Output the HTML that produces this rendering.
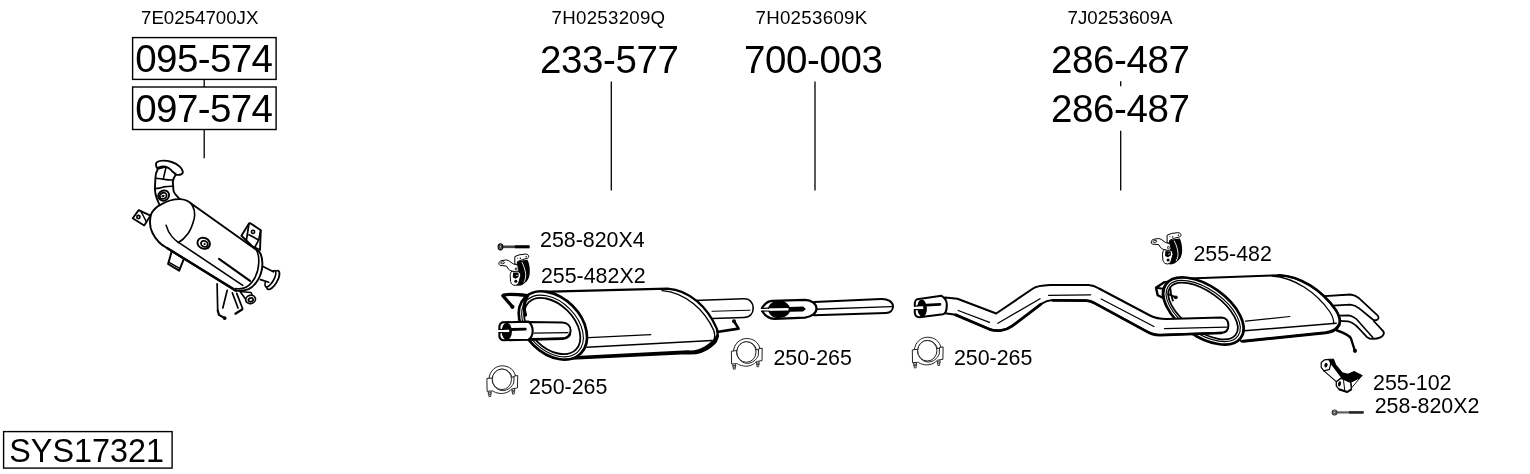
<!DOCTYPE html>
<html><head><meta charset="utf-8"><title>SYS17321</title>
<style>
html,body{margin:0;padding:0;background:#fff;}
svg{display:block}
text{font-family:"Liberation Sans",Arial,sans-serif;fill:#000}
.oe{font-size:18.7px;text-anchor:middle}
.big{font-size:38.5px;letter-spacing:-0.4px;text-anchor:middle}
.sm{font-size:21.4px}
.ln{stroke:#000;stroke-width:1.3;fill:none}
.bx{stroke:#000;stroke-width:1.4;fill:none}
.p{stroke:#000;stroke-width:1.6;fill:#fff;stroke-linejoin:round;stroke-linecap:round}
.t{stroke:#000;stroke-width:1;fill:none;stroke-linejoin:round;stroke-linecap:round}
.k{stroke:#000;stroke-width:2.2;fill:none;stroke-linejoin:round;stroke-linecap:round}
</style></head><body>
<svg width="1530" height="474" viewBox="0 0 1530 474">
<rect width="1530" height="474" fill="#fff"/>
<!-- drawings -->
<g id="frontmuffler">
<!-- outlet pipe -->
<path class="p" d="M694 300.5 L744 298.8 C750 298.6 753.2 303 753.2 308 C753.2 313.5 750 317.4 744 317.5 L704 318.8 Z"/>
<path class="t" d="M712 311.3 L750 310.2"/>
<!-- rear hook -->
<path class="k" style="stroke-width:2.6" d="M734.2 321.5 L738.6 328.6 L717 332"/>
<circle cx="734" cy="321.3" r="2"/>
<!-- body -->
<path class="p" style="stroke-width:2.3" d="M541 291.8 L667.5 288.6 C690 290 708 308 716.9 328.9 C719 337 716 343 711.2 346 C704 352 696 354 686.5 353.2 L572 358.5 Z"/>
<path class="t" style="stroke-width:1.4" d="M662 290.6 C686 292.5 705 310.5 713.8 330.5 C715.2 335 714.8 338.5 713.5 341"/>
<path class="k" style="stroke-width:3" d="M576 357.6 L688 351.8 C700 353 712 345 717.5 336"/>
<path class="t" style="stroke-width:1.5" d="M586.6 347.3 L712 340.6"/>
<path class="t" style="stroke-width:1.2" d="M588.8 337.7 L650.8 334.7"/>
<!-- front face -->
<ellipse class="p" style="stroke-width:2.7" cx="552.9" cy="325.4" rx="39.5" ry="27.7" transform="rotate(45 552.9 325.4)"/>
<ellipse class="t" style="stroke-width:1.1" cx="552.5" cy="326" rx="36.2" ry="24.3" transform="rotate(45 552.5 326)"/>
<ellipse class="t" style="stroke-width:1.8" cx="552.2" cy="326" rx="33.4" ry="21.6" transform="rotate(45 552.2 326)"/>
<!-- front hook -->
<path class="k" style="stroke-width:3.2" d="M512.3 306.6 L502.8 295.6 C506 293.5 518 294.5 527 295.5"/>
<circle cx="512.4" cy="306.8" r="2.1"/>
<path class="k" style="stroke-width:3.2" d="M527.5 296 C523 303 523.5 309 525.5 315"/>
<!-- inlet pipe -->
<path class="p" style="stroke-width:2" d="M528 322 L562 322.6 C568 322.8 570.6 326.5 570.6 330.6 C570.6 335 568 338.4 562 338.6 L528 339.4 Z"/>
<path class="k" style="stroke-width:2.6" d="M530 339.4 L562 338.7 C566 338.6 568.5 337 569.8 334.5"/>
<path class="t" style="stroke-width:1.2" d="M534 333.2 L568 332.6"/>
<path class="p" style="stroke-width:2.1" d="M502 322.4 L528.5 321.6 C531 323.5 532.6 327 532.7 331 C532.6 335 531 338 528.5 339.7 L503 340.2 C501 339.8 499.8 338.5 499.4 336.5 L499.4 326 C499.8 324 500.8 322.8 502 322.4 Z"/>
<ellipse cx="506.8" cy="331.4" rx="5.1" ry="8.6" fill="#000"/>
<path d="M498 329.9 L509.2 329.8 L509.2 332.1 L498 332.2 Z" fill="#fff"/>
<path class="t" style="stroke-width:1.2" d="M499 329.5 L503 329.4 M499 332.6 L503 332.5"/>
<path class="k" style="stroke-width:2.8" d="M511.3 329.5 L525.3 329.2"/>
</g>
<g id="midpipe">
<path class="p" style="stroke-width:2" d="M814 301.9 L881 298.9 C888 298.6 893 302 893 306.6 C893 310.5 890 312.8 886 313 L814 315.2 Z"/>
<path class="t" style="stroke-width:1.4" d="M816 309.3 L891.4 306.6"/>
<path class="p" style="stroke-width:2.2" d="M761.4 309.2 C764 304 768 301.2 772 300.8 L805 299.8 C812 300 816.5 304 816.5 308.5 C816.5 313 812 316.8 805 317.6 L774.5 318.8 C769 318.6 764 315 761.4 309.2 Z"/>
<path d="M768 308 C769.5 303.5 773 300.8 780 300.5 C785.5 300.8 788.5 304.5 789.8 307 L803 306.4 L806 309 L803 311.5 L789.8 311.8 C788.5 315.5 784 318.2 778 318.1 C772.5 317.8 769.5 314.5 768.3 311.2 Z" fill="#000"/>
<path d="M760 308.6 L788.5 308.1 L788.5 310.6 L760 310.9 Z" fill="#fff"/>
<path class="t" style="stroke-width:1.2" d="M761.6 308.3 L768.5 308.2 M761.6 311.1 L768.8 311"/>
</g>
<g id="rearmuffler">
<!-- tailpipes -->
<path d="M1338 320 L1348 321.3 C1352 322 1355 324.5 1357.5 327 L1366.8 336.9 C1369 338.5 1371 339 1373 338.9 C1378 338.8 1382 337.5 1383.5 334.5 C1384.5 332.5 1383.5 331 1382 329.9 L1373.7 321 L1356 303 L1336 310 Z" fill="#fff"/>
<path class="t" style="stroke-width:1.8" d="M1339 320.8 L1348 321.3 C1352 322 1355 324.5 1357.5 327 L1366.8 336.9 C1369 338.5 1371 339 1373 338.9 C1378 338.8 1382 337.5 1383.5 334.5 C1384.5 332.5 1383.5 331 1382 329.9 L1373.7 321"/>
<path class="t" style="stroke-width:1.6" d="M1340 315.6 L1349 315.4 C1352 316 1354.5 317.5 1356.6 319.2 L1372.8 337.5"/>
<path class="p" style="stroke-width:1.8" d="M1321 296.4 L1350.3 294.5 C1354 294.8 1357 296.5 1359.2 298.3 L1377.5 315.4 C1379 317 1378.8 318.5 1377.5 319.5 C1376 320.6 1374 320.3 1372.5 319.2 L1359.2 308.4 C1356.5 306.2 1354 304.9 1350.3 304.6 L1328 305.8 Z"/>
<!-- rm hook -->
<path class="k" style="stroke-width:2.4" d="M1337 330.5 C1343 332.5 1349 335 1351 338.5 L1354.6 350"/>
<circle cx="1355" cy="350.8" r="2.1"/>
<!-- body -->
<path class="p" style="stroke-width:2" d="M1188.5 278.6 L1279.2 275.2 C1300 276 1322 290 1336.2 310.6 C1340 317 1340.5 322 1339 325 C1337 329 1332 332 1325.7 332.8 L1241.3 341.4 Z"/>
<path class="k" style="stroke-width:2.6" d="M1279.2 275.2 C1300 276 1322 290 1336.2 310.6 C1340 317 1340.5 322 1339 325"/>
<path class="t" style="stroke-width:1.3" d="M1272 276 C1294 277.5 1316 292 1330 312 C1333 317 1334 321 1333.5 323.5"/>
<path class="k" style="stroke-width:3" d="M1243 341.2 L1325.7 332.8 C1332 332 1337 329 1339 325"/>
<path class="t" style="stroke-width:1.5" d="M1244.4 330.7 L1336.2 323.3"/>
<path class="t" style="stroke-width:1.2" d="M1245.5 321.2 L1289.8 316.5"/>
<!-- tab -->
<path class="p" style="stroke-width:2.4" d="M1156 287.7 L1163.8 282.4 L1176 280.5 L1170 300 L1162.7 297.8 L1157.7 295.3 Z"/>
<path class="t" style="stroke-width:2" d="M1156 287.7 L1162.9 288.8 L1162.7 297.8 M1162.9 288.8 L1170 282.5"/>
<!-- face -->
<ellipse class="p" style="stroke-width:2.7" cx="1203.4" cy="311" rx="46" ry="25" transform="rotate(35.5 1203.4 311)"/>
<ellipse class="t" style="stroke-width:1.1" cx="1203.2" cy="311" rx="42.8" ry="21.8" transform="rotate(35.5 1203.2 311)"/>
<ellipse class="t" style="stroke-width:1.8" cx="1203" cy="311" rx="40.4" ry="19.5" transform="rotate(35.5 1203 311)"/>
<path class="k" style="stroke-width:1.8" d="M1168.2 294.2 L1175.5 297.2 M1170.3 288 C1170.5 292.5 1171.5 297 1172.9 300.6"/>
<circle cx="1175.8" cy="297.3" r="1.9"/>
</g>
<g id="rearpipe">
<!-- S pipe -->
<path class="p" style="stroke-width:2" d="M945 297.6 L957.4 298.7 L996.2 313.5 L1033 288.5 C1036 286.4 1040 285.3 1050 284.9 L1088.5 284.9 C1093 285 1096 286.5 1099 288.5 L1150 315.5 C1154 317.6 1158 318.9 1166.6 319 L1221.4 317.4 C1226 317.4 1228.4 321 1228.4 325.2 C1228.4 329.5 1226 332.6 1221.4 332.8 L1160 335 C1155 335 1150 333.5 1145.5 330.7 L1094.9 303.2 C1092 301.5 1089 300.6 1086.4 300.5 L1052.7 300.1 C1048 300.3 1045 301.5 1041 304 L1012 326 C1006 330.5 997 331.5 989.5 329.1 L955.7 314.7 L945 313.2 Z"/>
<path class="k" style="stroke-width:2.8" d="M955.7 314.9 L989.5 329.3 C997 331.7 1006 330.7 1012 326.2 L1041 304.2"/>
<path class="k" style="stroke-width:2.7" d="M1052.7 300.3 L1086.4 300.7 C1089 300.8 1092 301.7 1094.9 303.4 L1145.5 330.9 C1150 333.7 1155 335.2 1160 335.2 L1221.4 333"/>
<path class="t" style="stroke-width:1.3" d="M958.2 310.5 L989.5 322.3 M997.9 323.2 L1040 298.7 M1048.5 295.3 L1090.6 294.8 M1101.2 299 L1153.9 326.5 M1164.5 328.6 L1226.7 327.1"/>
<!-- flare -->
<path class="p" style="stroke-width:2" d="M917.2 299.2 L941.5 295.8 C944.5 297.5 946.6 300.5 946.8 304 C946.9 307.5 946.4 310.5 945.6 312 C945 313.2 944 314 943 314.3 L919.4 317.3 C916.5 317 915 315.5 914.8 313 L914.8 303 C915 301 916 299.7 917.2 299.2 Z"/>
<ellipse cx="922.1" cy="308.2" rx="4.8" ry="8.7" fill="#000" transform="rotate(-4 922.1 308.2)"/>
<path d="M913 306.5 L923.2 306.3 L923.2 309 L913 309.3 Z" fill="#fff"/>
<path class="t" style="stroke-width:1.2" d="M914.4 306.1 L918 306 M914.4 309.6 L918 309.5"/>
<path class="k" style="stroke-width:2.7" d="M926.5 305.1 L940 304.4"/>
</g>
<g id="cat">
<!-- legs -->
<path class="t" style="stroke-width:1.7" d="M217.1 283.9 L217.7 310.5 M227.2 290.3 L222.8 308"/>
<path class="k" style="stroke-width:2.2" d="M217.7 310.5 L219 314.9 L224.7 318.1"/>
<circle cx="224.7" cy="318.1" r="1.9"/>
<path class="t" style="stroke-width:1.7" d="M232.3 292.8 L238 308 M236.7 293.4 L242.4 308"/>
<path class="k" style="stroke-width:2.2" d="M242.4 309.2 L235.4 313.7"/>
<!-- bottom sensor -->
<path class="p" style="stroke-width:1.6" d="M240 291.5 L251 292.5 L253 296.5 L245.5 299 Z"/>
<ellipse class="p" style="stroke-width:1.7" cx="250.6" cy="299.4" rx="4.9" ry="4.1" transform="rotate(-15 250.6 299.4)"/>
<ellipse class="t" style="stroke-width:1.7" cx="250.8" cy="299.8" rx="2.4" ry="1.8" transform="rotate(-15 250.8 299.8)"/>
<!-- outlet -->
<ellipse class="p" style="stroke-width:1.8" cx="273" cy="280" rx="10.6" ry="4.3" transform="rotate(120 273 280)"/>
<ellipse class="p" style="stroke-width:1.6" cx="270.4" cy="278.8" rx="9.2" ry="3.4" transform="rotate(120 270.4 278.8)"/>
<path d="M258 262 L273.2 271.6 L268.6 282.2 L255 281 Z" fill="#fff"/>
<path class="t" style="stroke-width:1.7" d="M262 266 L273.4 271.8 M260.5 279.6 L268.8 282.2"/>
<!-- top-right bracket -->
<path class="p" style="stroke-width:1.9" d="M241.4 235.7 L249 223.4 L250.3 223.2 L260.8 230.2 L260 250 L252 246 Z"/>
<path class="t" style="stroke-width:1.7" d="M249 223.6 L246.5 239.5 M249 234.8 L258.7 239.9 M260.6 230.6 L258.7 239.9 L255.3 246.4"/>
<circle class="t" style="stroke-width:1.6" cx="253" cy="231.9" r="1.6"/>
<!-- lower-left bracket -->
<path class="p" style="stroke-width:2" d="M171.8 251 L168.1 264 L179.2 270.6 L184 258.5 Z"/>
<path class="t" style="stroke-width:1.5" d="M169.6 262.6 L180 268.6"/>
<!-- left bracket -->
<path class="p" style="stroke-width:1.8" d="M132.7 218.3 L138.7 210.1 L150.5 215.6 L144.2 225.4 Z"/>
<path class="t" style="stroke-width:1.5" d="M141 211.5 L146.5 222"/>
<circle class="t" style="stroke-width:1.6" cx="138.4" cy="217" r="1.6"/>
<!-- inlet neck -->
<path class="p" style="stroke-width:1.9" d="M157.8 168.9 C156 172 155.4 175 155.4 178.2 L154.9 188.6 C155 192 155.6 195 156.6 197.9 L160.1 206.5 L181 200 L178.6 197.9 C175.5 195 173.6 192.5 173.4 189.8 L172.8 181.7 C173.2 178.5 174.4 176.5 175.7 174.7 L168 166 Z"/>
<path class="t" style="stroke-width:1.6" d="M155.6 178.2 C159 178.4 162 178.8 164.7 179.4 C168 179.9 170.5 180 172.8 179.9 M155 188.6 C158 188.4 161 187.8 163.6 186.9 C167 186.4 170 186.2 173.4 186.3 M165.9 167.8 L163.6 177.6"/>
<path class="p" style="stroke-width:1.9" d="M156 164.9 C155.6 163.5 156.2 162.6 157.2 162 C158.8 161 160.5 160.6 162.4 160.6 C165.6 160.5 168.8 161 171.7 162 C174.8 163 177.6 164.6 179.8 166.6 C181.2 167.9 182.3 169.5 182.7 171.2 C183 172.6 182.6 173.6 181.5 174.1 C180 174.9 178 175 176.3 174.7 C175.4 173.6 174.2 172.6 172.8 171.8 C171.5 170.3 170 169 168.2 167.8 C166 166.6 163.5 166.3 161.2 166.6 C159.6 166.9 158.3 167.5 157.2 168.3 C156.5 167.3 156.1 166.2 156 164.9 Z"/>
<!-- sensor boss 1 -->
<ellipse class="p" style="stroke-width:1.8" cx="163.6" cy="195.6" rx="5.6" ry="5" transform="rotate(-25 163.6 195.6)"/>
<ellipse class="t" style="stroke-width:1.8" cx="163.2" cy="195.8" rx="3.5" ry="3" transform="rotate(-25 163.2 195.8)"/>
<ellipse cx="163" cy="196" rx="1.6" ry="1.2" transform="rotate(-25 163 196)" fill="#000"/>
<!-- body -->
<path class="p" style="stroke-width:1.9" d="M179.9 199.1 C184 199.3 188 200.8 190.8 203.2 L259.5 252.1 C263.5 258 263.6 270 258.2 279.5 C255.5 284 252 287.5 248.6 289.1 C244 290.8 239 291.2 234.9 290.5 L167 248 C160 244.5 156 240 152.5 233 C149.5 227 149.5 220 151.1 214.2 C153.5 209 157 206.5 160.7 204.6 C166 201.5 173 199 179.9 199.1 Z"/>
<path class="t" style="stroke-width:1.6" d="M190.8 203.2 C194.5 208 195.5 213 194.1 219 C192.5 225 191 229.5 188.1 233.4 C185 237.5 182 240.5 178.5 242.5"/>
<path class="t" style="stroke-width:1.5" d="M166.1 225.2 C167.5 230 169.5 233.5 171.6 236.1 C173.5 238.5 176 241 178.5 242.5"/>
<path class="t" style="stroke-width:1.6" d="M178.5 242.3 L242.7 285.4"/>
<path class="t" style="stroke-width:2.1" d="M219 258.8 L250 280.9"/>
<path class="t" style="stroke-width:1.6" d="M256.5 250 C259.8 256 259.8 268 255 277.5 C252.5 282 249.5 285.5 246 287.3 C243 288.8 238 289 235.5 288.5"/>
<path class="t" style="stroke-width:2.4" d="M236 290.6 L167 248"/>
<!-- sensor 2 -->
<ellipse class="p" style="stroke-width:1.9" cx="203.7" cy="243.3" rx="6.4" ry="5.4" transform="rotate(25 203.7 243.3)"/>
<ellipse class="t" style="stroke-width:1.8" cx="204.4" cy="243.9" rx="3.5" ry="2.9" transform="rotate(25 204.4 243.9)"/>
<circle cx="204.6" cy="244.1" r="1.1"/>
</g>
<defs>
<filter id="gray" x="0" y="0" width="1530" height="474" filterUnits="userSpaceOnUse" color-interpolation-filters="sRGB"><feOffset dx="0" dy="0"/></filter>
<g id="clamp">
<!-- local origin = bbox top-left; size ~32x31.5 -->
<path d="M2.6 13.5 C3.5 5.5 9 0.6 16 0.5 C23 0.6 28.3 5 29.2 11 L25.6 12 C24.8 7.5 21 4 16 3.9 C10.5 4 6.5 8 6.2 13.5 Z" fill="#fff" stroke="#222" stroke-width="1"/>
<path d="M0.6 13.2 L5.8 12.6 L6.2 17 C8 22 12 25.5 17 25.3 C21.5 25 25.5 22 27.5 17.5 L27.8 10.8 L31.4 10.2 L31.2 22.6 L26.5 23.4 C25 23.6 24.5 24.5 23.5 25.5 C21 27.3 18 28.2 15 28.2 C12 28.1 9.5 27.4 7.5 26.3 C6.8 25.8 6.6 25.6 5.8 25.6 L0.8 26 Z" fill="#fff" stroke="#222" stroke-width="1"/>
<ellipse cx="15.6" cy="14" rx="9.6" ry="10.3" fill="#fff" stroke="#222" stroke-width="1"/>
<path d="M2 26.2 L2 29 L4.8 29 L4.8 26 M2.4 29 L2.6 31.2 L4.4 31.2 L4.5 29 M2.1 27.6 L4.8 27.4" fill="none" stroke="#222" stroke-width="0.9"/>
<path d="M25.6 23.8 L25.7 26.6 L28.4 26.4 L28.3 23.4 M26 26.6 L26.2 28.8 L27.9 28.7 L28 26.5 M25.7 25.2 L28.3 25" fill="none" stroke="#222" stroke-width="0.9"/>
</g>
<g id="bolt">
<path d="M4.6 -1.35 L31.6 -1.35 L31.6 1.35 L4.6 1.35 Z" fill="#444"/>
<path d="M17 -1.45 L31.6 -1.45 L31.6 1.45 L17 1.45 Z" fill="#000"/>
<path d="M0.2 0 C0.2 -2.1 1.2 -3.1 2.5 -3.1 C3.9 -3.1 4.9 -2.1 4.9 0 C4.9 2.1 3.9 3.1 2.5 3.1 C1.2 3.1 0.2 2.1 0.2 0 Z" fill="#bbb" stroke="#000" stroke-width="1.1"/>
<path d="M1.7 -1.5 L3.5 -1.5 L3.5 1.5 L1.7 1.5 Z" fill="none" stroke="#000" stroke-width="0.7"/>
</g>
<g id="hanger">
<!-- local origin = bbox top-left; size ~32x32.5 -->
<path d="M19 8.4 L23.5 7.2 L29.3 6.4 C31 10 31.8 14 31.6 19 C31.5 23 30.2 26 28.4 28 L24 31.6 C22 32.6 19.5 32.6 18 32 L14.5 26 L14 20 L17 12 Z" fill="#000"/>
<path d="M23.6 8.6 C25.5 12 26.8 16 27.4 20 C27.8 23.5 27 26.5 25.6 29" fill="none" stroke="#fff" stroke-width="0.9"/>
<!-- top bracket -->
<path d="M16.6 3.2 L20.8 1.5 L27 0.7 C29.5 0.6 30.6 1.8 30.5 3.2 C30.3 4.3 29.6 4.8 28.9 5 L24.2 6.2 L19.3 8.2 L18.8 11.4 L16.6 10.6 Z" fill="#fff" stroke="#000" stroke-width="1"/>
<circle cx="22.1" cy="4.9" r="0.75" fill="#000"/><circle cx="27.9" cy="3.3" r="0.75" fill="#000"/><circle cx="19.4" cy="4.7" r="0.5" fill="#000"/>
<!-- lower plate -->
<path d="M13.7 17.5 C12.5 19 12 20.5 12 22.2 L12.4 28.1 C12.8 30 13.8 31.2 15.3 31.7 C16.5 32.1 17.8 32 18.7 31.5 C19.8 30.8 20.4 29.8 20.8 28.5 L22.5 22.2 C22.4 20.5 21.8 19.2 20.8 18.4 Z" fill="#fff" stroke="#000" stroke-width="1"/>
<path d="M14.9 19 L20.4 19.4 L20.3 23.6 L17.4 25.3 L14.6 23.9 Z" fill="#000"/>
<path d="M17.6 22.3 L19.6 21.7" stroke="#fff" stroke-width="0.7" fill="none"/>
<circle cx="17.6" cy="27.9" r="1.5" fill="#000"/>
<!-- left arm + plate -->
<path d="M0.7 9.8 C1 8.4 1.8 7.8 2.7 7.4 L8.2 6.5 C10 6.8 11.2 7.6 12.4 8.6 L15.3 10.6 L17.5 11.2 C19 11.6 19.5 12 19.7 12.6 L20.5 16.3 C20.3 17.6 19.3 18.4 17.9 18.5 L13.7 17.6 C12 17.2 11 16.5 10.3 15.8 L8.2 12.6 L1.8 12.1 C1 11.6 0.6 10.8 0.7 9.8 Z" fill="#fff" stroke="#000" stroke-width="1"/>
<ellipse cx="4.4" cy="9.4" rx="2" ry="1" transform="rotate(-10 4.4 9.4)" fill="#fff" stroke="#000" stroke-width="0.8"/>
<ellipse cx="17.9" cy="15.6" rx="0.9" ry="1.3" fill="#fff" stroke="#000" stroke-width="0.8"/>
</g>
</defs>
<g id="icons">
<use href="#clamp" x="486.3" y="365.3"/>
<use href="#clamp" x="730.8" y="338"/>
<use href="#clamp" x="911.7" y="336.7"/>
<use href="#bolt" x="497.9" y="246.8"/>
<use href="#bolt" x="0" y="0" transform="translate(1332 412.4) scale(1 0.82)" opacity="0.85"/>
<use href="#hanger" x="498.2" y="253.4"/>
<use href="#hanger" x="1150.5" y="232"/>
<g id="bracket102">
<path d="M1328.7 359.4 L1333.5 359.1 L1335.6 364.6 L1342.4 372.8 L1347.9 374.2 L1354.1 371.5 L1362.3 375.6 L1356.2 381.1 L1350.7 382.4 L1344.5 379.7 L1341.7 377.6 L1330.8 363.2 Z" fill="#000" stroke="#000" stroke-width="1" stroke-linejoin="round"/>
<path d="M1330.8 363.2 L1341.7 377.6 L1336.3 381.7 L1323.9 370.8 Z" fill="#fff" stroke="#000" stroke-width="1.1" stroke-linejoin="round"/>
<path d="M1321.2 362.5 L1324.6 359.8 L1328.7 359.4 L1330.8 363.2 L1329.4 369.4 L1323.9 370.8 L1321.2 367.3 Z" fill="#fff" stroke="#000" stroke-width="1.2" stroke-linejoin="round"/>
<ellipse cx="1326" cy="365.2" rx="1.6" ry="2.4" transform="rotate(15 1326 365.2)" fill="#000"/>
<path d="M1350.7 382.4 L1360.3 377.6 L1352 387.4 Z" fill="#fff" stroke="#000" stroke-width="0.9" stroke-linejoin="round"/>
<path d="M1336.3 381.7 L1341 378.3 L1344.5 379.7 L1350.7 382.4 L1351.4 389.3 L1347.2 392 L1339 389.3 L1336.3 385.9 Z" fill="#fff" stroke="#000" stroke-width="1.3" stroke-linejoin="round"/>
<path d="M1343.5 380.2 L1344.8 390.8" fill="none" stroke="#000" stroke-width="1"/>
<path d="M1339 389.3 L1347.2 392 L1351.4 389.3" fill="none" stroke="#000" stroke-width="2" stroke-linejoin="round"/>
<ellipse cx="1339.5" cy="383.9" rx="1.4" ry="2.6" transform="rotate(12 1339.5 383.9)" fill="#000"/>
</g>
</g>
<!-- OE numbers -->
<g id="labels" filter="url(#gray)">
<text class="oe" x="199.7" y="24.3">7E0254700JX</text>
<text class="oe" x="608.5" y="24.3" style="letter-spacing:0.27px">7H0253209Q</text>
<text class="oe" x="811.5" y="24.3" style="letter-spacing:0.3px">7H0253609K</text>
<text class="oe" x="1120.1" y="24.3">7J0253609A</text>
<!-- part numbers -->
<rect class="bx" x="132.6" y="37.6" width="143.5" height="41.8"/>
<rect class="bx" x="132.6" y="87" width="143.5" height="42.5"/>
<text class="big" x="203.8" y="72.3" style="letter-spacing:-0.62px">095-574</text>
<text class="big" x="203.8" y="122.3" style="letter-spacing:-0.62px">097-574</text>
<text class="big" x="609.2" y="72.5">233-577</text>
<text class="big" x="813.3" y="72.5">700-003</text>
<text class="big" x="1120.2" y="72.5">286-487</text>
<text class="big" x="1120.2" y="122.3">286-487</text>
<!-- leaders -->
<path class="ln" d="M204.2 79.4V87M204.2 129.5V158.2M611.3 81.5V190.4M815 81.5V190.4M1120.7 81.3V86.2M1120.7 130.8V190.4"/>
<!-- small labels -->
<text class="sm" x="540" y="246.8">258-820X4</text>
<text class="sm" x="540.9" y="282.8">255-482X2</text>
<text class="sm" x="528.9" y="393.5">250-265</text>
<text class="sm" x="773.4" y="365">250-265</text>
<text class="sm" x="953.9" y="365">250-265</text>
<text class="sm" x="1193.4" y="261">255-482</text>
<text class="sm" x="1373" y="389.7">255-102</text>
<text class="sm" x="1374.7" y="413">258-820X2</text>
<!-- SYS box -->
<rect class="bx" x="3.6" y="431.6" width="168.5" height="36.5"/>
<text x="9.3" y="462" style="font-size:32.35px">SYS17321</text>
</g>
</svg>
</body></html>
